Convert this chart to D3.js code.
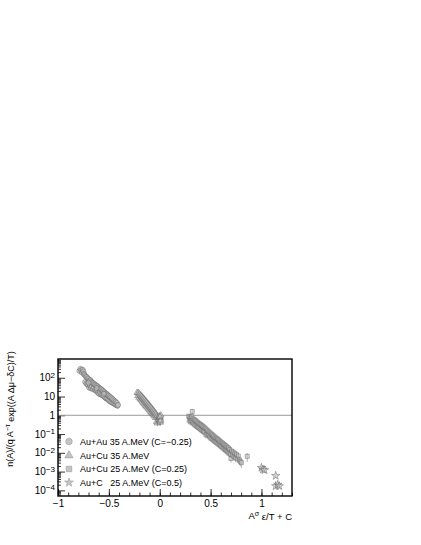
<!DOCTYPE html>
<html>
<head>
<meta charset="utf-8">
<script src="https://cdn.jsdelivr.net/npm/d3@7"></script>
<style>
  body { margin: 0; background: #fff; }
  svg text { font-family: "Liberation Sans", Arial, sans-serif; fill: #000; }
</style>
</head>
<body>
<div id="chart"></div>
<script>
// [x, y, relative error]
var auAu35 = [
  [-0.79, 230, .2], [-0.78, 300, .2], [-0.772, 250, .2], [-0.765, 190, .25], [-0.757, 270, .2],
  [-0.75, 215, .2], [-0.745, 160, .25], [-0.738, 140, .3], [-0.733, 60, .3], [-0.728, 120, .3],
  [-0.722, 50, .3], [-0.718, 110, .3], [-0.712, 45, .3], [-0.708, 95, .3], [-0.703, 40, .3],
  [-0.698, 85, .3], [-0.694, 30, .35], [-0.69, 70, .3], [-0.685, 38, .3], [-0.68, 75, .3],
  [-0.676, 28, .35], [-0.672, 62, .3], [-0.667, 35, .3], [-0.662, 55, .3], [-0.657, 25, .3],
  [-0.652, 50, .3], [-0.647, 30, .3], [-0.642, 45, .3], [-0.637, 22, .3], [-0.632, 42, .3],
  [-0.627, 20, .3], [-0.622, 38, .3], [-0.617, 22, .3], [-0.612, 35, .3], [-0.607, 16, .3],
  [-0.602, 31, .3], [-0.597, 14, .35], [-0.593, 28, .3], [-0.588, 17, .3], [-0.583, 26, .3],
  [-0.578, 13, .3], [-0.573, 24, .3], [-0.568, 12, .3], [-0.563, 21, .3], [-0.558, 11, .3],
  [-0.553, 19, .3], [-0.548, 10, .3], [-0.543, 17, .3], [-0.538, 9, .3], [-0.533, 15, .3],
  [-0.528, 8, .3], [-0.523, 14, .3], [-0.518, 7.5, .3], [-0.513, 12.5, .3], [-0.508, 7, .3],
  [-0.503, 11, .3], [-0.498, 6, .3], [-0.492, 10, .3], [-0.487, 5.5, .3], [-0.482, 9, .3],
  [-0.476, 5, .3], [-0.47, 8, .3], [-0.464, 4.6, .3], [-0.458, 7, .3], [-0.452, 4.2, .3],
  [-0.446, 6, .3], [-0.44, 3.8, .3], [-0.434, 5.3, .3], [-0.428, 3.5, .3], [-0.422, 4.6, .3],
  [-0.415, 3.2, .3], [-0.41, 3.6, .3], [-0.7, 55, .3], [-0.62, 28, .3], [-0.55, 14, .3]
];
var auCu35 = [
  [-0.222, 16, .25], [-0.215, 11, .25], [-0.21, 15.5, .25], [-0.204, 9, .25], [-0.198, 13.5, .25],
  [-0.192, 7.5, .25], [-0.186, 11.5, .25], [-0.181, 6.5, .25], [-0.176, 10, .25], [-0.171, 5.5, .25],
  [-0.166, 8.5, .25], [-0.161, 4.6, .25], [-0.156, 7.5, .25], [-0.151, 4.0, .25], [-0.146, 6.4, .25],
  [-0.141, 3.4, .25], [-0.136, 5.6, .25], [-0.131, 3.0, .25], [-0.126, 4.8, .25], [-0.121, 2.6, .25],
  [-0.116, 4.1, .25], [-0.111, 2.2, .25], [-0.106, 3.5, .25], [-0.101, 1.9, .25], [-0.096, 3.0, .25],
  [-0.091, 1.6, .25], [-0.086, 2.6, .25], [-0.081, 1.4, .25], [-0.076, 2.2, .25], [-0.071, 1.25, .25],
  [-0.066, 1.9, .25], [-0.061, 1.05, .25], [-0.056, 1.6, .25], [-0.051, 0.9, .25], [-0.046, 1.35, .25],
  [-0.041, 0.75, .3], [-0.036, 1.15, .3], [-0.031, 0.45, .3], [-0.027, 0.9, .3], [-0.022, 0.38, .3],
  [-0.018, 0.75, .3], [-0.012, 0.6, .3], [-0.006, 0.9, .3], [-0.002, 0.5, .35], [0.003, 0.75, .35],
  [0.005, 0.42, .35], [0.008, 0.6, .35], [0.01, 1.0, .3], [0.006, 0.5, .35], [0.002, 0.85, .3]
];
var auCu25 = [
  [0.285, 0.9, .3], [0.29, 0.55, .3], [0.295, 0.8, .3], [0.3, 0.45, .3], [0.305, 0.7, .3],
  [0.31, 0.5, .3], [0.315, 0.85, .3], [0.32, 1.6, .3], [0.322, 0.4, .3], [0.328, 0.65, .3],
  [0.334, 0.35, .3], [0.34, 0.58, .3], [0.346, 0.3, .3], [0.352, 0.52, .3], [0.358, 0.27, .3],
  [0.364, 0.46, .3], [0.37, 0.24, .3], [0.376, 0.4, .3], [0.382, 0.22, .3], [0.388, 0.36, .3],
  [0.394, 0.19, .3], [0.4, 0.33, .3], [0.406, 0.17, .3], [0.412, 0.29, .3], [0.418, 0.15, .3],
  [0.424, 0.26, .3], [0.43, 0.14, .3], [0.436, 0.23, .3], [0.442, 0.12, .3], [0.448, 0.2, .35],
  [0.454, 0.09, .35], [0.46, 0.17, .3], [0.466, 0.1, .3], [0.472, 0.15, .3], [0.478, 0.085, .3],
  [0.484, 0.13, .3], [0.49, 0.07, .3], [0.496, 0.115, .3], [0.502, 0.06, .35], [0.508, 0.1, .3],
  [0.514, 0.055, .3], [0.52, 0.088, .3], [0.526, 0.048, .3], [0.532, 0.078, .3], [0.538, 0.042, .35],
  [0.544, 0.068, .3], [0.55, 0.038, .3], [0.556, 0.06, .3], [0.562, 0.034, .35], [0.568, 0.054, .3],
  [0.574, 0.03, .3], [0.58, 0.048, .3], [0.586, 0.027, .3], [0.592, 0.042, .3], [0.598, 0.023, .35],
  [0.604, 0.037, .3], [0.61, 0.021, .3], [0.616, 0.033, .3], [0.622, 0.018, .35], [0.628, 0.029, .3],
  [0.634, 0.016, .3], [0.64, 0.026, .3], [0.646, 0.014, .35], [0.652, 0.023, .3], [0.658, 0.0125, .35],
  [0.664, 0.02, .3], [0.67, 0.011, .35], [0.676, 0.018, .3], [0.682, 0.0095, .35], [0.688, 0.015, .35],
  [0.694, 0.0085, .35], [0.7, 0.005, .4], [0.706, 0.0125, .35], [0.714, 0.0075, .35], [0.722, 0.011, .35],
  [0.73, 0.0062, .4], [0.738, 0.0095, .35], [0.746, 0.0055, .4], [0.754, 0.008, .4], [0.762, 0.0048, .4],
  [0.772, 0.0068, .4], [0.782, 0.0042, .45], [0.792, 0.0035, .45], [0.802, 0.003, .5], [0.86, 0.0065, .5]
];
var auC25 = [
  [1.0, 0.0016, .25], [1.015, 0.0013, .25], [1.03, 0.0012, .25],
  [1.14, 0.0006, .25], [1.14, 0.00017, .25], [1.16, 0.0002, .25], [1.175, 0.00017, .25]
];
var xTicks = [-1, -0.5, 0, 0.5, 1];
var yTicks = [1e-4, 1e-3, 1e-2, 1e-1, 1, 10, 100];
var yTickLabels = [["10", "−4"], ["10", "−3"], ["10", "−2"], ["10", "−1"], ["1", ""], ["10", ""], ["10", "2"]];
var legendNames = ["Au+Au 35 A.MeV (C=−0.25)", "Au+Cu 35 A.MeV", "Au+Cu 25 A.MeV (C=0.25)", "Au+C   25 A.MeV (C=0.5)"];

var W = 421, H = 545;
var frameL = 58, frameR = 292, frameT = 359, frameB = 496;

var svg = d3.select("#chart").append("svg")
    .attr("width", W)
    .attr("height", H);

var x = d3.scaleLinear().domain([-1, 1.3]).range([frameL, frameR]);
var y = d3.scaleLog().domain([5e-5, 1e3]).range([frameB, frameT]);

// minor ticks
var xMinor = d3.range(-10, 14).map(function(i) { return i / 10; });
svg.append("g")
    .attr("transform", "translate(0," + frameB + ")")
    .call(d3.axisBottom(x).tickValues(xMinor).tickSize(-3.5).tickFormat(""))
    .call(function(g) { g.select(".domain").remove(); });

var xAxis = svg.append("g")
    .attr("transform", "translate(0," + frameB + ")")
    .call(d3.axisBottom(x).tickValues(xTicks).tickSize(-7).tickPadding(4)
        .tickFormat(function(d) { return d < 0 ? "−" + Math.abs(d) : String(d); }));
xAxis.select(".domain").remove();
xAxis.selectAll("text").style("font-size", "10px").style("font-family", "Liberation Sans, Arial, sans-serif");

var yMinor = [];
for (var e = -5; e <= 2; e++) {
  for (var m = 2; m <= 9; m++) {
    var v = m * Math.pow(10, e);
    if (v > 5e-5 && v < 1e3) yMinor.push(v);
  }
}
svg.append("g")
    .attr("transform", "translate(" + frameL + ",0)")
    .call(d3.axisLeft(y).tickValues(yMinor).tickSize(-3).tickFormat(""))
    .call(function(g) { g.select(".domain").remove(); });

svg.append("g")
    .attr("transform", "translate(" + frameL + ",0)")
    .call(d3.axisLeft(y).tickValues(yTicks).tickSize(-7).tickFormat(""))
    .call(function(g) { g.select(".domain").remove(); });

svg.selectAll("g.tick line").attr("stroke", "#000").attr("stroke-width", 0.8);

var yLab = svg.append("g").selectAll("text")
    .data(yTicks)
    .enter().append("text")
    .attr("x", 55)
    .attr("y", function(d) { return y(d); })
    .attr("dy", "0.36em")
    .attr("text-anchor", "end")
    .style("font-size", "10px");
yLab.append("tspan").text(function(d, i) { return yTickLabels[i][0]; });
yLab.append("tspan")
    .attr("dy", "-0.45em")
    .style("font-size", "8px")
    .text(function(d, i) { return yTickLabels[i][1]; });

// reference line at 1
svg.append("line")
    .attr("x1", frameL).attr("x2", frameR)
    .attr("y1", y(1)).attr("y2", y(1))
    .attr("stroke", "#999").attr("stroke-width", 1);

var series = [
  { data: auAu35, symbol: d3.symbolCircle, size: 20, legSize: 34 },
  { data: auCu35, symbol: d3.symbolTriangle, size: 18, legSize: 30 },
  { data: auCu25, symbol: d3.symbolSquare, size: 16, legSize: 30 },
  { data: auC25, symbol: d3.symbolStar, size: 22, legSize: 24 }
];

var plot = svg.append("g");
series.forEach(function(s) {
  plot.selectAll(null)
      .data(s.data)
      .enter().append("line")
      .attr("x1", function(d) { return x(d[0]); })
      .attr("x2", function(d) { return x(d[0]); })
      .attr("y1", function(d) { return y(d[1] * (1 + d[2])); })
      .attr("y2", function(d) { return y(d[1] * (1 - d[2])); })
      .attr("stroke", "#9a9a9a")
      .attr("stroke-width", 0.7);
  plot.selectAll(null)
      .data(s.data)
      .enter().append("path")
      .attr("transform", function(d) { return "translate(" + x(d[0]) + "," + y(d[1]) + ")"; })
      .attr("d", d3.symbol().type(s.symbol).size(s.size))
      .attr("fill", "#c4c4c4")
      .attr("fill-opacity", 0.6)
      .attr("stroke", "#5a5a5a")
      .attr("stroke-width", 0.45);
});

// frame
svg.append("rect")
    .attr("x", frameL).attr("y", frameT)
    .attr("width", frameR - frameL).attr("height", frameB - frameT)
    .attr("fill", "none")
    .attr("stroke", "#000")
    .attr("stroke-width", 1.4);

// legend
var legendY = [441.5, 455.5, 469, 482.5];
var leg = svg.append("g").selectAll("g")
    .data(series)
    .enter().append("g")
    .attr("transform", function(d, i) { return "translate(69," + legendY[i] + ")"; });
leg.append("path")
    .attr("d", function(d) { return d3.symbol().type(d.symbol).size(d.legSize)(); })
    .attr("fill", "#c4c4c4")
    .attr("stroke", "#999")
    .attr("stroke-width", 0.6);
leg.append("text")
    .attr("x", 11)
    .attr("dy", "0.35em")
    .style("font-size", "9px")
    .style("white-space", "pre")
    .text(function(d, i) { return legendNames[i]; });

// axis titles
var xt = svg.append("text")
    .attr("x", frameR)
    .attr("y", 519)
    .attr("text-anchor", "end")
    .style("font-size", "9.5px");
xt.append("tspan").text("A");
xt.append("tspan").attr("dy", "-0.4em").style("font-size", "7px").text("σ");
xt.append("tspan").attr("dy", "0.4em").text(" ε/T + C");

var yt = svg.append("text")
    .attr("transform", "translate(13,409) rotate(-90)")
    .attr("text-anchor", "middle")
    .style("font-size", "9px");
yt.append("tspan").text("n(A)/(q A");
yt.append("tspan").attr("dy", "-0.4em").style("font-size", "7px").text("−τ");
yt.append("tspan").attr("dy", "0.4em").text(" exp((A Δμ−δC)/T)");
</script>
</body>
</html>
